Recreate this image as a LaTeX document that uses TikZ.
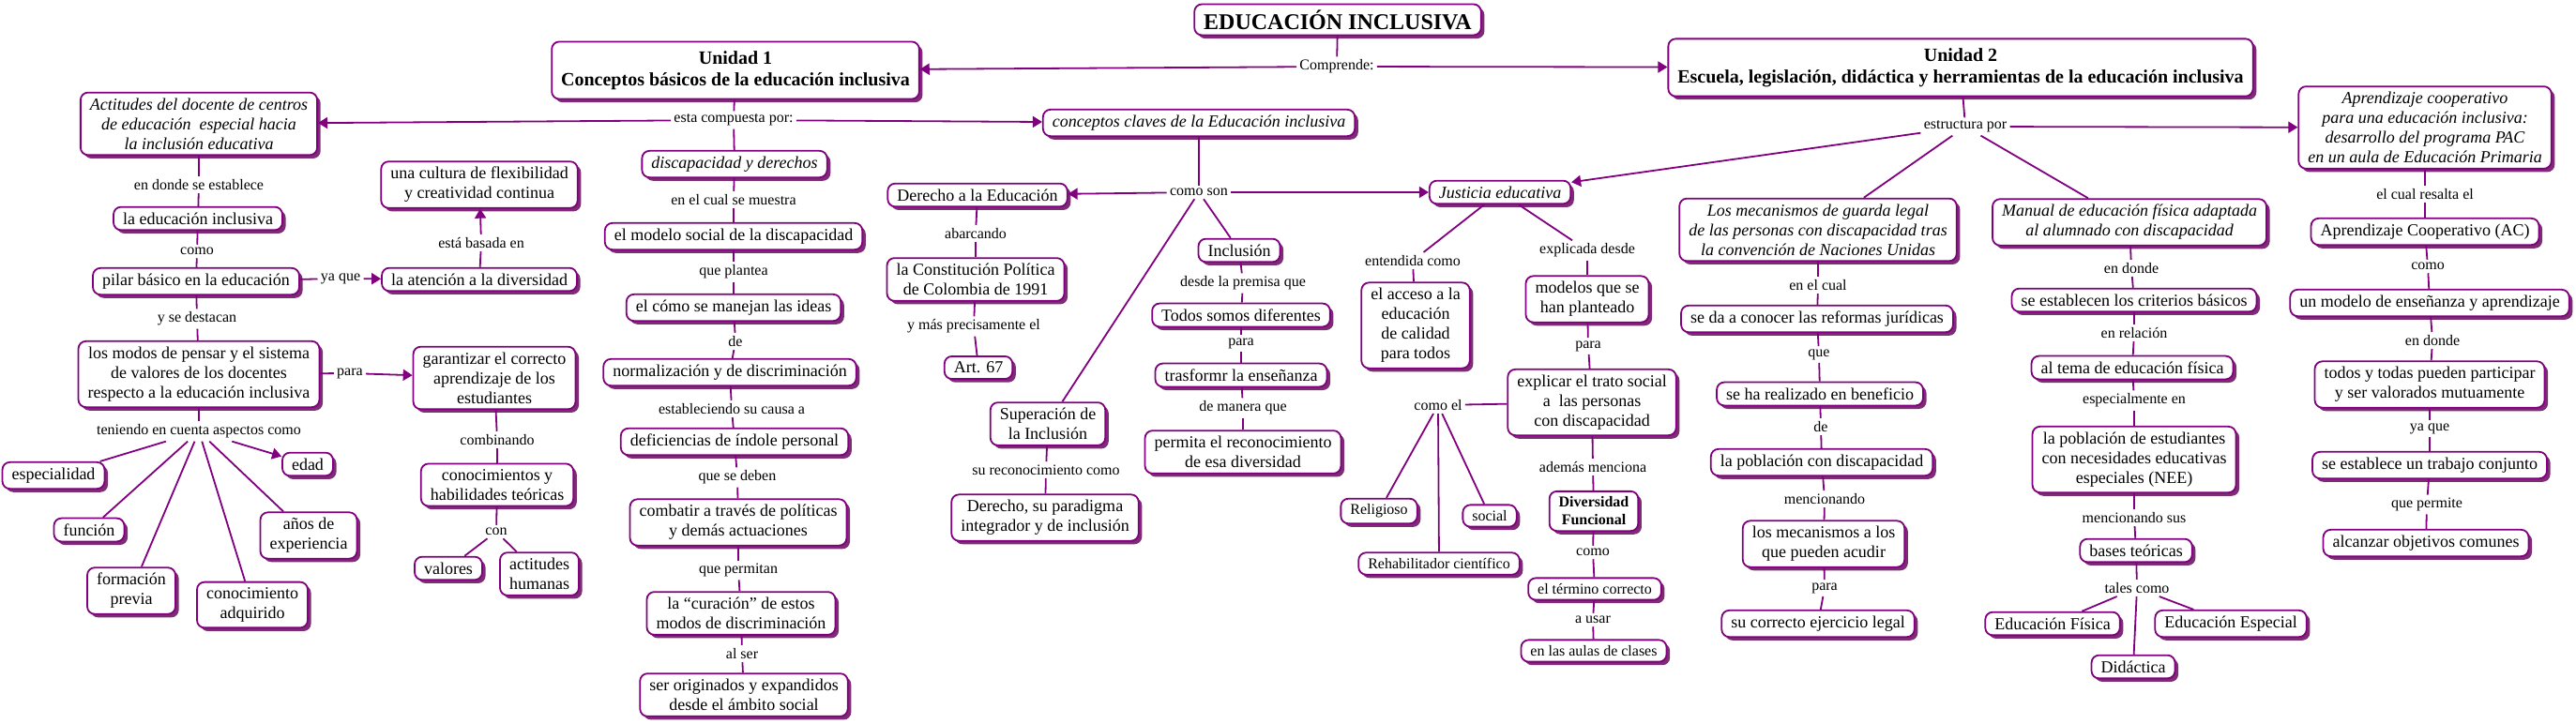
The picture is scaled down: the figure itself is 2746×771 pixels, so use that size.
\documentclass[tikz,border=0pt]{standalone}
\usepackage{fontspec}
\setmainfont{Liberation Serif}
\usetikzlibrary{arrows.meta}
\usetikzlibrary{shadows}
\definecolor{mapline}{RGB}{128,0,128}
\definecolor{mapshadow}{RGB}{125,45,115}
\tikzset{
  concept/.style={draw=mapline, line width=0.9pt, rounded corners=4pt, fill=white,
    align=center, inner xsep=5pt, inner ysep=3pt, font=\fontsize{9}{10.5}\selectfont,
    drop shadow={shadow xshift=1.8pt, shadow yshift=-1.8pt, fill=mapshadow, opacity=1}},
  smallconcept/.style={concept, font=\fontsize{8}{9.5}\selectfont},
  italconcept/.style={concept, font=\fontsize{9}{10.5}\selectfont\itshape},
  unitbox/.style={concept, font=\fontsize{10}{11.5}\selectfont\bfseries, inner ysep=5pt},
  linkword/.style={font=\fontsize{8}{9.5}\selectfont, inner sep=1.5pt},
  conn/.style={draw=mapline, line width=0.9pt},
  arr/.style={conn, -{Triangle[length=5pt,width=6pt]}},
}
\begin{document}
\begin{tikzpicture}[x=0.5pt,y=-0.5pt]
  \useasboundingbox (0,0) rectangle (2746,771);
  % top of the map
  \node[concept, font=\fontsize{12}{14}\selectfont\bfseries] (title) at (1426,21) {EDUCACIÓN INCLUSIVA};
  \node[linkword] (comprende) at (1425,71) {Comprende:};
  \node[unitbox] (u1) at (784,75) {Unidad 1\\Conceptos básicos de la educación inclusiva};
  \node[unitbox] (u2) at (2090,72) {Unidad 2\\Escuela, legislación, didáctica y herramientas de la educación inclusiva};
  \draw[conn] (title) -- (comprende);
  \draw[arr] (comprende) -- (u1);
  \draw[arr] (comprende) -- (u2);

  % unidad 1, left branch
  \node[linkword] (compuesta) at (782,128) {esta compuesta por:};
  \node[italconcept] (actitudes) at (212,132) {Actitudes del docente de centros\\de educación~ especial hacia\\la inclusión educativa};
  \node[linkword] (establece) at (212,197) {en donde se establece};
  \node[concept] (edinc) at (211,233) {la educación inclusiva};
  \node[linkword] (como1) at (210,268) {como};
  \node[concept] (pilar) at (209,300) {pilar básico en la educación};
  \node[linkword] (yaque1) at (363,297) {ya que};
  \node[concept] (atencion) at (511,298) {la atención a la diversidad};
  \node[linkword] (basada) at (513,259) {está basada en};
  \node[concept] (cultura) at (511,197) {una cultura de flexibilidad\\y creatividad continua};
  \node[linkword] (destacan) at (210,340) {y se destacan};
  \node[concept] (modos) at (212,399) {los modos de pensar y el sistema\\de valores de los docentes\\respecto a la educación inclusiva};
  \node[linkword] (para1) at (373,398) {para};
  \node[concept] (garantizar) at (527,403) {garantizar el correcto\\aprendizaje de los\\estudiantes};
  \node[linkword] (combinando) at (530,469) {combinando};
  \node[concept] (conocim) at (530,517) {conocimientos y\\habilidades teóricas};
  \node[linkword] (con) at (529,567) {con};
  \node[concept] (valores) at (478,606) {valores};
  \node[concept] (actitudesh) at (575,612) {actitudes\\humanas};
  \node[linkword] (teniendo) at (212,460) {teniendo en cuenta aspectos como};
  \node[concept] (especialidad) at (57,507) {especialidad};
  \node[concept] (funcion) at (95,565) {función};
  \node[concept] (formacion) at (140,630) {formación\\previa};
  \node[concept] (conocimiento) at (269,645) {conocimiento\\adquirido};
  \node[concept] (anos) at (329,571) {años de\\experiencia};
  \node[concept] (edad) at (328,495) {edad};
  \draw[conn] (u1) -- (compuesta);
  \draw[arr] (compuesta) -- (actitudes);
  \draw[conn] (actitudes) -- (establece);
  \draw[conn] (establece) -- (edinc);
  \draw[conn] (edinc) -- (como1);
  \draw[conn] (como1) -- (pilar);
  \draw[conn] (pilar) -- (yaque1);
  \draw[arr] (yaque1) -- (atencion);
  \draw[conn] (atencion) -- (basada);
  \draw[arr] (basada) -- (cultura);
  \draw[conn] (pilar) -- (destacan);
  \draw[conn] (destacan) -- (modos);
  \draw[conn] (modos) -- (para1);
  \draw[arr] (para1) -- (garantizar);
  \draw[conn] (garantizar) -- (combinando);
  \draw[conn] (combinando) -- (conocim);
  \draw[conn] (conocim) -- (con);
  \draw[conn] (con) -- (valores);
  \draw[conn] (con) -- (actitudesh);
  \draw[conn] (modos) -- (teniendo);
  \draw[conn] (teniendo) -- (especialidad);
  \draw[conn] (teniendo) -- (funcion);
  \draw[conn] (teniendo) -- (formacion);
  \draw[conn] (teniendo) -- (conocimiento);
  \draw[conn] (teniendo) -- (anos);
  \draw[arr] (teniendo) -- (edad);

  % unidad 1, discapacidad y derechos
  \node[italconcept] (discap) at (783,175) {discapacidad y derechos};
  \node[linkword] (muestra) at (782,213) {en el cual se muestra};
  \node[concept] (modelo) at (782,252) {el modelo social de la discapacidad};
  \node[linkword] (plantea) at (782,290) {que plantea};
  \node[concept] (ideas) at (782,328) {el cómo se manejan las ideas};
  \node[linkword] (de1) at (784,364) {de};
  \node[concept] (normal) at (778,397) {normalización y de discriminación};
  \node[linkword] (causa) at (780,436) {estableciendo su causa a};
  \node[concept] (deficiencias) at (783,471) {deficiencias de índole personal};
  \node[linkword] (deben) at (786,509) {que se deben};
  \node[concept] (combatir) at (787,557) {combatir a través de políticas\\y demás actuaciones};
  \node[linkword] (permitan) at (787,608) {que permitan};
  \node[concept] (curacion) at (790,654) {la “curación” de estos\\modos de discriminación};
  \node[linkword] (alser) at (791,697) {al ser};
  \node[concept] (originados) at (793,741) {ser originados y expandidos\\desde el ámbito social};
  \draw[conn] (compuesta) -- (discap);
  \draw[conn] (discap) -- (muestra);
  \draw[conn] (muestra) -- (modelo);
  \draw[conn] (modelo) -- (plantea);
  \draw[conn] (plantea) -- (ideas);
  \draw[conn] (ideas) -- (de1);
  \draw[conn] (de1) -- (normal);
  \draw[conn] (normal) -- (causa);
  \draw[conn] (causa) -- (deficiencias);
  \draw[conn] (deficiencias) -- (deben);
  \draw[conn] (deben) -- (combatir);
  \draw[conn] (combatir) -- (permitan);
  \draw[conn] (permitan) -- (curacion);
  \draw[conn] (curacion) -- (alser);
  \draw[conn] (alser) -- (originados);

  % unidad 1, conceptos claves
  \node[italconcept] (claves) at (1278,131) {conceptos claves de la Educación inclusiva};
  \node[linkword] (comoson) at (1278,205) {como son};
  \node[concept] (derecho) at (1042,208) {Derecho a la Educación};
  \node[linkword] (abarcando) at (1040,249) {abarcando};
  \node[concept] (constitucion) at (1040,298) {la Constitución Política\\de Colombia de 1991};
  \node[linkword] (precisamente) at (1038,348) {y más precisamente el};
  \node[concept] (art) at (1043,392) {Art. 67};
  \node[concept] (superacion) at (1117,452) {Superación de\\la Inclusión};
  \node[linkword] (reconocimiento) at (1115,501) {su reconocimiento como};
  \node[concept] (paradigma) at (1114,552) {Derecho, su paradigma\\integrador y de inclusión};
  \node[concept] (inclusion) at (1321,267) {Inclusión};
  \node[linkword] (premisa) at (1325,302) {desde la premisa que};
  \node[concept] (diferentes) at (1323,336) {Todos somos diferentes};
  \node[linkword] (para2) at (1323,366) {para};
  \node[concept] (trasformr) at (1323,400) {trasformr la enseñanza};
  \node[linkword] (manera) at (1325,435) {de manera que};
  \node[concept] (permita) at (1325,482) {permita el reconocimiento\\de esa diversidad};
  \draw[arr] (compuesta) -- (claves);
  \draw[conn] (claves) -- (comoson);
  \draw[arr] (comoson) -- (derecho);
  \draw[conn] (derecho) -- (abarcando);
  \draw[conn] (abarcando) -- (constitucion);
  \draw[conn] (constitucion) -- (precisamente);
  \draw[conn] (precisamente) -- (art);
  \draw[conn] (comoson) -- (superacion);
  \draw[conn] (superacion) -- (reconocimiento);
  \draw[conn] (reconocimiento) -- (paradigma);
  \draw[conn] (comoson) -- (inclusion);
  \draw[conn] (inclusion) -- (premisa);
  \draw[conn] (premisa) -- (diferentes);
  \draw[conn] (diferentes) -- (para2);
  \draw[conn] (para2) -- (trasformr);
  \draw[conn] (trasformr) -- (manera);
  \draw[conn] (manera) -- (permita);

  % justicia educativa
  \node[italconcept] (justicia) at (1599,205) {Justicia educativa};
  \node[linkword] (entendida) at (1506,278) {entendida como};
  \node[concept] (acceso) at (1509,347) {el acceso a la\\educación\\de calidad\\para todos};
  \node[linkword] (explicada) at (1692,267) {explicada desde};
  \node[concept] (modelos) at (1692,319) {modelos que se\\han planteado};
  \node[linkword] (para3) at (1693,369) {para};
  \node[concept] (explicar) at (1697,429) {explicar el trato social\\a~ las personas\\con discapacidad};
  \node[linkword] (comoel) at (1533,432) {como el};
  \node[smallconcept] (religioso) at (1470,545) {Religioso};
  \node[smallconcept] (rehab) at (1534,601) {Rehabilitador científico};
  \node[smallconcept] (social) at (1588,550) {social};
  \node[linkword] (ademas) at (1698,498) {además menciona};
  \node[smallconcept, font=\fontsize{8}{9.5}\selectfont\bfseries] (diversidad) at (1699,545) {Diversidad\\Funcional};
  \node[linkword] (como2) at (1698,589) {como};
  \node[smallconcept] (termino) at (1700,628) {el término correcto};
  \node[linkword] (usar) at (1698,661) {a usar};
  \node[smallconcept] (aulas) at (1699,694) {en las aulas de clases};
  \draw[arr] (comoson) -- (justicia);
  \draw[conn] (justicia) -- (entendida);
  \draw[conn] (entendida) -- (acceso);
  \draw[conn] (justicia) -- (explicada);
  \draw[conn] (explicada) -- (modelos);
  \draw[conn] (modelos) -- (para3);
  \draw[conn] (para3) -- (explicar);
  \draw[conn] (explicar) -- (comoel);
  \draw[conn] (comoel) -- (religioso);
  \draw[conn] (comoel) -- (rehab);
  \draw[conn] (comoel) -- (social);
  \draw[conn] (explicar) -- (ademas);
  \draw[conn] (ademas) -- (diversidad);
  \draw[conn] (diversidad) -- (como2);
  \draw[conn] (como2) -- (termino);
  \draw[conn] (termino) -- (usar);
  \draw[conn] (usar) -- (aulas);

  % unidad 2
  \node[linkword] (estructura) at (2095,135) {estructura por};
  \node[italconcept] (mecanismos) at (1938,245) {Los mecanismos de guarda legal\\de las personas con discapacidad tras\\la convención de Naciones Unidas};
  \node[linkword] (cual) at (1938,304) {en el cual};
  \node[concept] (reformas) at (1937,340) {se da a conocer las reformas jurídicas};
  \node[linkword] (que1) at (1939,378) {que};
  \node[concept] (beneficio) at (1940,420) {se ha realizado en beneficio};
  \node[linkword] (de2) at (1941,455) {de};
  \node[concept] (poblacion) at (1942,493) {la población con discapacidad};
  \node[linkword] (mencionando) at (1945,532) {mencionando};
  \node[concept] (acudir) at (1944,580) {los mecanismos a los\\que pueden acudir};
  \node[linkword] (para4) at (1945,627) {para};
  \node[concept] (ejercicio) at (1938,665) {su correcto ejercicio legal};
  \draw[conn] (u2) -- (estructura);
  \draw[arr] (estructura) -- (justicia);
  \draw[conn] (estructura) -- (mecanismos);
  \draw[conn] (mecanismos) -- (cual);
  \draw[conn] (cual) -- (reformas);
  \draw[conn] (reformas) -- (que1);
  \draw[conn] (que1) -- (beneficio);
  \draw[conn] (beneficio) -- (de2);
  \draw[conn] (de2) -- (poblacion);
  \draw[conn] (poblacion) -- (mencionando);
  \draw[conn] (mencionando) -- (acudir);
  \draw[conn] (acudir) -- (para4);
  \draw[conn] (para4) -- (ejercicio);

  % manual de educacion fisica
  \node[italconcept] (manual) at (2270,237) {Manual de educación física adaptada\\al alumnado con discapacidad};
  \node[linkword] (endonde1) at (2272,286) {en donde};
  \node[concept] (criterios) at (2275,320) {se establecen los criterios básicos};
  \node[linkword] (relacion) at (2275,355) {en relación};
  \node[concept] (tema) at (2273,392) {al tema de educación física};
  \node[linkword] (especialmente) at (2275,427) {especialmente en};
  \node[concept] (nee) at (2275,490) {la población de estudiantes\\con necesidades educativas\\especiales (NEE)};
  \node[linkword] (sus) at (2275,552) {mencionando sus};
  \node[concept] (bases) at (2277,587) {bases teóricas};
  \node[linkword] (tales) at (2278,627) {tales como};
  \node[concept] (fisica) at (2188,665) {Educación Física};
  \node[concept] (didactica) at (2274,711) {Didáctica};
  \node[concept] (especial) at (2378,665) {Educación Especial};
  \draw[conn] (estructura) -- (manual);
  \draw[conn] (manual) -- (endonde1);
  \draw[conn] (endonde1) -- (criterios);
  \draw[conn] (criterios) -- (relacion);
  \draw[conn] (relacion) -- (tema);
  \draw[conn] (tema) -- (especialmente);
  \draw[conn] (especialmente) -- (nee);
  \draw[conn] (nee) -- (sus);
  \draw[conn] (sus) -- (bases);
  \draw[conn] (bases) -- (tales);
  \draw[conn] (tales) -- (fisica);
  \draw[conn] (tales) -- (didactica);
  \draw[conn] (tales) -- (especial);

  % aprendizaje cooperativo
  \node[italconcept] (coop) at (2585,136) {Aprendizaje cooperativo\\para una educación inclusiva:\\desarrollo del programa PAC\\en un aula de Educación Primaria};
  \node[linkword] (resalta) at (2585,207) {el cual resalta el};
  \node[concept] (ac) at (2585,247) {Aprendizaje Cooperativo (AC)};
  \node[linkword] (como3) at (2588,284) {como};
  \node[concept] (ensenanza) at (2590,323) {un modelo de enseñanza y aprendizaje};
  \node[linkword] (endonde2) at (2593,363) {en donde};
  \node[concept] (todos) at (2590,410) {todos y todas pueden participar\\y ser valorados mutuamente};
  \node[linkword] (yaque2) at (2590,457) {ya que};
  \node[concept] (conjunto) at (2590,496) {se establece un trabajo conjunto};
  \node[linkword] (permite) at (2587,538) {que permite};
  \node[concept] (objetivos) at (2586,579) {alcanzar objetivos comunes};
  \draw[arr] (estructura) -- (coop);
  \draw[conn] (coop) -- (resalta);
  \draw[conn] (resalta) -- (ac);
  \draw[conn] (ac) -- (como3);
  \draw[conn] (como3) -- (ensenanza);
  \draw[conn] (ensenanza) -- (endonde2);
  \draw[conn] (endonde2) -- (todos);
  \draw[conn] (todos) -- (yaque2);
  \draw[conn] (yaque2) -- (conjunto);
  \draw[conn] (conjunto) -- (permite);
  \draw[conn] (permite) -- (objetivos);
\end{tikzpicture}
\end{document}
